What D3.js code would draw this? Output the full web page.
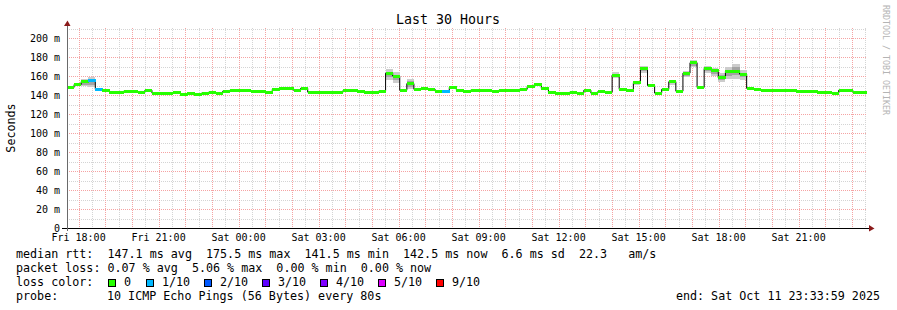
<!DOCTYPE html>
<html><head><meta charset="utf-8">
<script src="https://cdn.jsdelivr.net/npm/d3@7"></script>
<style>
body{margin:0;background:#fff}
text{font-family:"DejaVu Sans Mono",monospace;white-space:pre}
</style></head>
<body><svg id="c" width="897" height="310" xml:space="preserve"></svg>
<script>
// ---- data ----
const title = "Last 30 Hours";
const yLabel = "Seconds";
const startHour = 17 + 33/60 + 59/3600;   // Fri 17:33:59 (hours since Fri 00:00)
const spanHours = 30;
const xTickHours = [18,21,24,27,30,33,36,39,42,45];
const xTickLabels = ["Fri 18:00","Fri 21:00","Sat 00:00","Sat 03:00","Sat 06:00","Sat 09:00","Sat 12:00","Sat 15:00","Sat 18:00","Sat 21:00"];
const yTickValues = [0,20,40,60,80,100,120,140,160,180,200];
const yTickLabels = ["0","20 m","40 m","60 m","80 m","100 m","120 m","140 m","160 m","180 m","200 m"];
const median = [148,151,154,155,146,145,143,143,144,144,
143,145,142,142,142,143,141,142,141,142,
143,142,144,145,145,145,144,144,143,146,
147,147,145,147,143,143,143,143,143,145,
145,144,143,143,144,163,160,145,152,146,
147,146,144,144,148,145,144,145,145,145,
144,145,145,145,146,149,151,147,143,142,
142,143,142,145,142,144,143,161,146,145,
153,168,150,142,146,154,144,163,174,148,
168,166,158,165,165,162,147,146,145,145,
145,145,145,144,144,144,143,143,142,145,145,143,143];
const smokeLow = [147,150,149,148,145,144,142,142,143,143,
142,144,141,141,141,142,140,141,140,141,
142,141,143,144,144,144,143,143,142,145,
146,146,144,146,142,142,142,142,142,144,
144,143,142,142,143,156,153,144,146,145,
146,145,143,143,146,144,143,144,144,144,
143,144,144,144,145,147,149,146,142,141,
141,142,141,144,141,143,142,158,145,144,
151,163,148,141,145,151,143,159,169,147,
163,160,154,157,157,156,146,145,144,144,
144,144,144,143,143,143,142,142,141,144,144,142,142];
const smokeHigh = [149,152,157,159,147,146,144,144,145,145,
144,146,143,143,143,144,142,143,142,143,
144,143,145,146,146,146,145,145,144,147,
148,148,146,148,144,144,144,144,144,146,
146,145,144,144,145,167,164,146,157,147,
148,147,145,145,150,146,145,146,146,146,
145,146,146,146,147,151,153,148,144,143,
143,144,143,146,143,145,144,164,147,146,
155,171,152,143,147,156,145,165,177,149,
171,168,163,170,173,166,148,147,146,146,
146,146,146,145,145,145,144,144,143,146,146,144,144];
const lossTenths = median.map(()=>0);
lossTenths[3]=1; lossTenths[4]=1; lossTenths[53]=1;
const lossLabels = ["0","1/10","2/10","3/10","4/10","5/10","9/10"];
const lossKeys = [0,1,2,3,4,5,9];
const lossColors = ["#26ff00","#00b8ff","#0059ff","#5e00ff","#7e00ff","#dd00ff","#ff0000"];
const statLine1 = "median rtt:  147.1 ms avg  175.5 ms max  141.5 ms min  142.5 ms now  6.6 ms sd  22.3   am/s";
const statLine2 = "packet loss: 0.07 % avg  5.06 % max  0.00 % min  0.00 % now";
const probeLabel = "probe:";
const probeText = "10 ICMP Echo Pings (56 Bytes) every 80s";
const endText = "end: Sat Oct 11 23:33:59 2025";
const watermark = "RRDTOOL / TOBI OETIKER";

// ---- chart ----
const svg = d3.select("#c");
const X0 = 67, X1 = 867, Y0 = 228, Y1 = 28;
const x = d3.scaleLinear().domain([startHour, startHour + spanHours]).range([X0, X1]);
const y = d3.scaleLinear().domain([0, 200/0.95]).range([Y0, Y1]);
const n = median.length;
const stepH = spanHours / n;
const tAt = i => startHour + i * stepH;
const lossColor = v => lossColors[lossKeys.indexOf(v)];

svg.append("rect").attr("width",897).attr("height",310).attr("fill","#fff");

// grid
const g = svg.append("g").attr("shape-rendering","crispEdges");
const minorY = d3.range(10, 211, 10).filter(v => v % 20 !== 0);
const majorY = d3.range(20, 201, 20);
g.selectAll(".hy").data(minorY).join("line")
  .attr("x1",X0).attr("x2",X1).attr("y1",d=>Math.round(y(d))+0.5).attr("y2",d=>Math.round(y(d))+0.5)
  .attr("stroke","#d4d4d4").attr("stroke-dasharray","1,1");
const minorX = d3.range(Math.ceil(startHour*2)/2, startHour+spanHours, 0.5).filter(h => h % 1 !== 0);
const majorX = d3.range(Math.ceil(startHour), startHour+spanHours, 1);
g.selectAll(".vx").data(minorX).join("line")
  .attr("y1",Y1).attr("y2",Y0).attr("x1",d=>Math.round(x(d))+0.5).attr("x2",d=>Math.round(x(d))+0.5)
  .attr("stroke","#d4d4d4").attr("stroke-dasharray","1,1");
g.selectAll(".hY").data(majorY).join("line")
  .attr("x1",X0).attr("x2",X1).attr("y1",d=>Math.round(y(d))+0.5).attr("y2",d=>Math.round(y(d))+0.5)
  .attr("stroke","#f5a3a3").attr("stroke-dasharray","1,1");
g.selectAll(".vX").data(majorX).join("line")
  .attr("y1",Y1).attr("y2",Y0+2).attr("x1",d=>Math.round(x(d))+0.5).attr("x2",d=>Math.round(x(d))+0.5)
  .attr("stroke","#f5a3a3").attr("stroke-dasharray","1,1");

// smoke
const idx = d3.range(n);
const sm = svg.append("g").attr("shape-rendering","crispEdges");
sm.selectAll(".so").data(idx).join("rect")
  .attr("x",i=>x(tAt(i))).attr("width",i=>x(tAt(i+1))-x(tAt(i)))
  .attr("y",i=>y(smokeHigh[i])).attr("height",i=>y(smokeLow[i])-y(smokeHigh[i]))
  .attr("fill","#cccccc");
sm.selectAll(".si").data(idx).join("rect")
  .attr("x",i=>x(tAt(i))).attr("width",i=>x(tAt(i+1))-x(tAt(i)))
  .attr("y",i=>y(smokeHigh[i] - (smokeHigh[i]-smokeLow[i])*0.25))
  .attr("height",i=>(y(smokeLow[i])-y(smokeHigh[i]))*0.5)
  .attr("fill","#a4a4a4");

// median step line (black) + loss-colored band
const stepPts = [];
idx.forEach(i => { stepPts.push([x(tAt(i)), y(median[i])]); stepPts.push([x(tAt(i+1)), y(median[i])]); });
svg.append("path").attr("d", d3.line()(stepPts)).attr("fill","none").attr("stroke","#000").attr("stroke-width",1);
svg.append("g").attr("shape-rendering","crispEdges").selectAll("rect").data(idx).join("rect")
  .attr("x",i=>x(tAt(i))).attr("width",i=>x(tAt(i+1))-x(tAt(i))+0.3)
  .attr("y",i=>y(median[i])-1.5).attr("height",3)
  .attr("fill",i=>lossColor(lossTenths[i]));

// axes
const ax = svg.append("g").attr("shape-rendering","crispEdges");
ax.append("line").attr("x1",62).attr("x2",869).attr("y1",Y0+0.5).attr("y2",Y0+0.5).attr("stroke","#000");
ax.append("line").attr("x1",X0+0.5).attr("x2",X0+0.5).attr("y1",Y0+3).attr("y2",23).attr("stroke","#6a6a6a");
svg.append("path").attr("d","M64,26L70.5,26L67.5,20.5Z").attr("fill","#8b1a1a");
svg.append("path").attr("d","M869,225L869,231.5L874.5,228.5Z").attr("fill","#8b1a1a");

// tick labels
svg.selectAll(".yl").data(yTickValues).join("text")
  .attr("x",60).attr("y",d=>y(d)+3.5).attr("text-anchor","end")
  .attr("font-size","10px").attr("fill","#000").text((d,i)=>yTickLabels[i]);
svg.selectAll(".xl").data(xTickHours).join("text")
  .attr("x",d=>x(d)).attr("y",241).attr("text-anchor","middle")
  .attr("font-size","10px").attr("fill","#000").text((d,i)=>xTickLabels[i]);

// title & labels
svg.append("text").attr("x",448).attr("y",24).attr("text-anchor","middle").attr("font-size","13.3px").text(title);
svg.append("text").attr("transform","translate(15,128) rotate(-90)").attr("text-anchor","middle").attr("font-size","11.7px").text(yLabel);
svg.append("text").attr("transform","translate(883,5) rotate(90)").attr("font-size","8.3px").attr("fill","#b4b4b4").text(watermark);

// legend
const fs = "11.7px";
svg.append("text").attr("x",16).attr("y",258).attr("font-size",fs).text(statLine1);
svg.append("text").attr("x",16).attr("y",272).attr("font-size",fs).text(statLine2);
svg.append("text").attr("x",16).attr("y",286).attr("font-size",fs).text("loss color:");
const legX = [108,146,204,262,320,378,436];
const lg = svg.append("g");
lossLabels.forEach((lab,i)=>{
  lg.append("rect").attr("x",legX[i]+0.5).attr("y",279.5).attr("width",7).attr("height",7)
    .attr("fill",lossColors[i]).attr("stroke","#000").attr("stroke-width",1).attr("shape-rendering","crispEdges");
  lg.append("text").attr("x",legX[i]+16).attr("y",286).attr("font-size",fs).text(lab);
});
svg.append("text").attr("x",16).attr("y",300).attr("font-size",fs).text(probeLabel);
svg.append("text").attr("x",107).attr("y",300).attr("font-size",fs).text(probeText);
svg.append("text").attr("x",880).attr("y",300).attr("text-anchor","end").attr("font-size",fs).text(endText);
</script></body></html>
